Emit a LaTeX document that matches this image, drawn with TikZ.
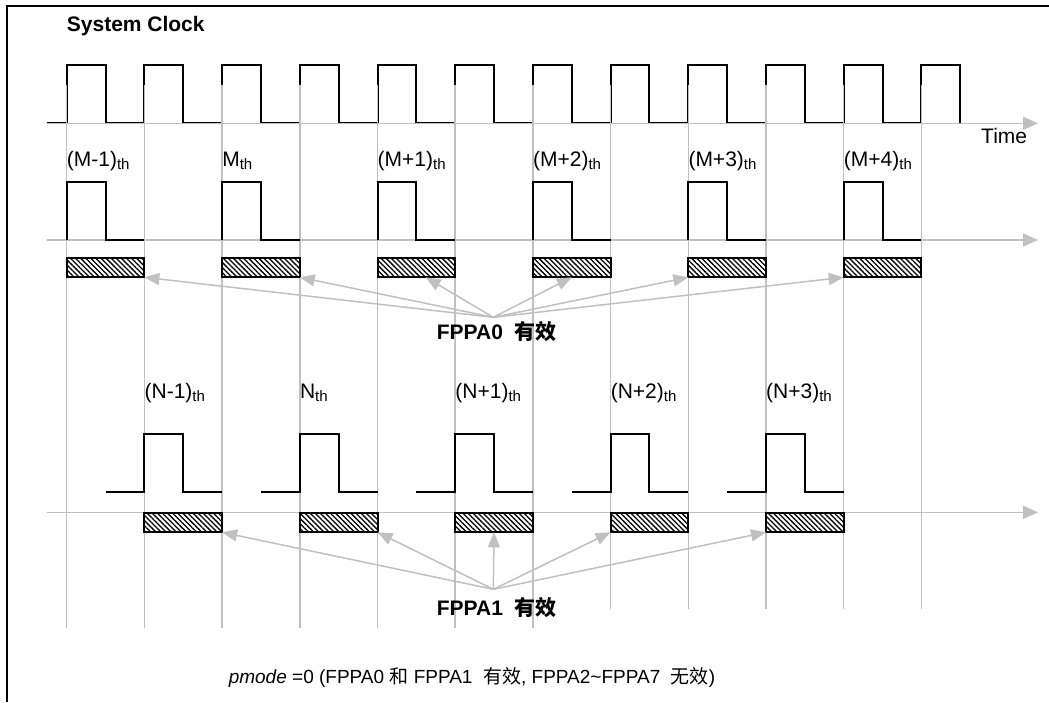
\documentclass[tikz,border=0pt]{standalone}
\usepackage{fontspec}
\setmainfont{Liberation Sans}
\newfontfamily\cjk{Noto Sans CJK SC}
\usetikzlibrary{arrows.meta,patterns.meta,calc}
\definecolor{lgray}{RGB}{192,192,192}
\newcommand{\thsub}{\raisebox{-3pt}{\fontsize{15}{15}\selectfont th}}
\tikzset{
  sig/.style={line width=2pt, black},
  gridline/.style={line width=1.5pt, lgray},
  taxis/.style={line width=1.5pt, lgray, -{Triangle[length=15pt,width=13pt]}},
  ptr/.style={line width=1.5pt, lgray, -{Triangle[length=15pt,width=12pt]}},
  hbox/.style={draw, line width=2pt, minimum width=77.7pt, minimum height=19pt,
    inner sep=0pt, outer sep=0pt, anchor=north west,
    pattern={Lines[angle=-45,distance=3.6pt,line width=1.3pt]}},
  lbl/.style={font=\fontsize{21}{24}\selectfont, inner sep=0pt, anchor=base west},
  blbl/.style={font=\bfseries\fontsize{21}{24}\selectfont, inner sep=0pt, anchor=north}
}
\begin{document}
\begin{tikzpicture}[x=1pt, y=-1pt]
\useasboundingbox (0,0) rectangle (1049,702);
\draw[line width=2pt] (7,702) -- (7,6) -- (1049,6);
\node[lbl, font=\bfseries\fontsize{21}{24}\selectfont] (title) at (66.7,31) {System Clock};

\draw[sig] (46.7,123.3) \foreach \k in {0,...,11} {
  -- ({66.7+77.7*\k},123.3) -- ++(0,-58.3) -- ++(38.85,0) -- ++(0,58.3) };

\foreach \k in {0,...,11} {
  \pgfmathsetmacro\yb{\k<7 ? 628 : 609}
  \draw[gridline] ({66.7+77.7*\k},85) -- ({66.7+77.7*\k},\yb);
}

\coordinate (c0) at (46.7,123.3);
\coordinate (c1) at (1038,123.3);
\coordinate (a0) at (46.7,240);
\coordinate (a1) at (1038,240);
\coordinate (b0) at (46.7,512.3);
\coordinate (b1) at (1038,512.3);
\draw[taxis] (c0) -- (c1);
\draw[taxis] (a0) -- (a1);
\draw[taxis] (b0) -- (b1);
\node[lbl] (time) at (981,143) {Time};

\foreach \lab [count=\i from 0] in {{(M-1)},{M},{(M+1)},{(M+2)},{(M+3)},{(M+4)}} {
  \pgfmathsetmacro\xa{66.7+2*77.7*\i}
  \draw[sig] (\xa,240) -- ++(0,-58.3) -- ++(38.85,0) -- ++(0,58.3) -- ++(38.85,0);
  \node[lbl] (ml\i) at (\xa,166) {\lab\thsub};
  \node[hbox] (m\i) at (\xa,258.3) {};
}

\foreach \lab [count=\i from 0] in {{(N-1)},{N},{(N+1)},{(N+2)},{(N+3)}} {
  \pgfmathsetmacro\xa{66.7+77.7*(2*\i+1)}
  \draw[sig] ({\xa-38.85},492.3) -- (\xa,492.3) -- ++(0,-58) -- ++(38.85,0) -- ++(0,58) -- ++(38.85,0);
  \node[lbl] (nl\i) at (\xa,398) {\lab\thsub};
  \node[hbox] (n\i) at (\xa,513.3) {};
}

\coordinate (p0) at (493.3,317.3);
\node[blbl] (fppa0) at (496.7,321) {FPPA0\ \ {\cjk 有效}};
\foreach \i/\a in {0/south east,1/south east,3/south,4/south west,5/south west}
  \draw[ptr] (p0) -- (m\i.\a);
\draw[ptr] (p0) -- ($(m2.south west)!0.62!(m2.south east)$);

\coordinate (p1) at (493.3,589.3);
\node[blbl] (fppa1) at (496.7,597) {FPPA1\ \ {\cjk 有效}};
\foreach \i/\a in {0/south east,1/south east,2/south,3/south west,4/south west}
  \draw[ptr] (p1) -- (n\i.\a);

\node[font=\fontsize{19}{24}\selectfont, inner sep=0pt] (note) at (472,677)
  {\textit{pmode} =0 (FPPA0 {\cjk 和} FPPA1\ \ {\cjk 有效}, FPPA2\textasciitilde FPPA7\ \ {\cjk 无效})};
\end{tikzpicture}
\end{document}
